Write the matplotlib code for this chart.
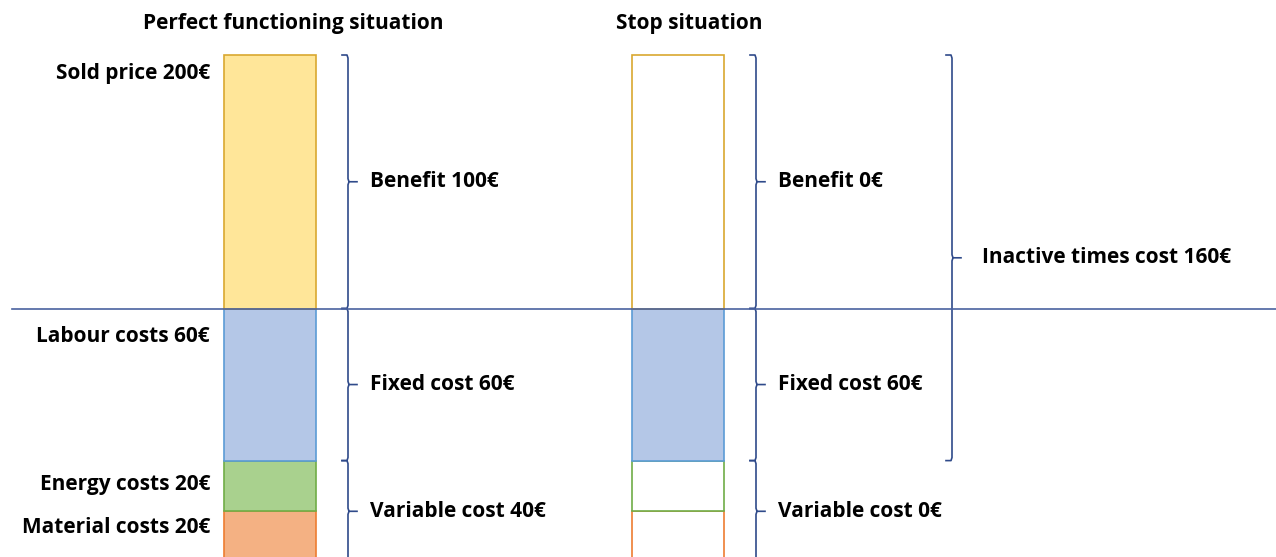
import matplotlib
matplotlib.use("Agg")
from matplotlib import pyplot as plt

# Datos (de abajo hacia arriba)
segments = ["Material costs", "Energy costs", "Labour costs", "Benefit"]
amounts = [20, 20, 60, 100]
sold_price = 200
stop_filled = [False, False, True, False]  # en parada solo se paga la mano de obra

titles = ["Perfect functioning situation", "Stop situation"]
groups_perfect = [("Variable cost", 40), ("Fixed cost", 60), ("Benefit", 100)]
groups_stop = [("Variable cost", 0), ("Fixed cost", 60), ("Benefit", 0)]
group_sizes = [40, 60, 100]
inactive_cost = 160

fills = ["#F4B183", "#A9D18E", "#B4C7E7", "#FFE699"]
edges = ["#ED7D31", "#70AD47", "#5B9BD5", "#D9A830"]
navy = "#2F4A8A"

plt.rcParams['font.family'] = ['Open Sans', 'DejaVu Sans']
plt.rcParams['font.weight'] = 'bold'
fs = 15

fig = plt.figure(figsize=(12.76, 5.57), dpi=100)
ax = fig.add_axes([0, 0, 1, 1])
ax.set_xlim(0, 1276)
ax.set_ylim(1.97, 221.7)
ax.axis('off')


def brace(ax, x, y0, y1, color=navy):
    # llave derecha entre y0 (abajo) e y1 (arriba)
    mid = (y0 + y1) / 2
    e = 1.2
    ax.plot([x - 6, x - 1, x, x, x + 1, x + 9],
            [y1, y1, y1 - e, mid + e, mid, mid], color=color, lw=1.2)
    ax.plot([x + 1, x, x, x - 1, x - 6],
            [mid, mid - e, y0 + e, y0, y0], color=color, lw=1.2)
    return mid


bar_x = [270, 678]
brace_x = [348, 756]
title_x = [293, 689]

for i in range(2):
    bottom = 0
    for j, h in enumerate(amounts):
        if i == 0 or stop_filled[j]:
            fc = fills[j]
        else:
            fc = "white"
        ax.bar(bar_x[i], h, width=92, bottom=bottom, color=fc,
               edgecolor=edges[j], linewidth=1.2, zorder=2)
        bottom += h

    # llaves y etiquetas de grupos
    groups = groups_perfect if i == 0 else groups_stop
    lo = 0
    for (name, val), size in zip(groups, group_sizes):
        mid = brace(ax, brace_x[i], lo, lo + size)
        ax.text(brace_x[i] + 22, mid, f"{name} {val}€", fontsize=fs,
                ha='left', va='center')
        lo += size

    fig.text(title_x[i] / 1276, 1 - 24 / 557, titles[i], fontsize=fs,
             ha='center', va='center')

# etiquetas de la izquierda
left_labels = [f"{s} {a}€" for s, a in zip(segments[:3], amounts[:3])]
left_labels.append(f"Sold price {sold_price}€")
tops = [20, 40, 100, 200]
offsets = [-12, -17, -20, -13]
for lab, top, off in zip(left_labels, tops, offsets):
    ax.annotate(lab, (210, top), xytext=(0, off), textcoords='offset points',
                fontsize=fs, ha='right', va='center')

# línea horizontal en el precio de coste
ax.axhline(amounts[0] + amounts[1] + amounts[2], xmin=12 / 1276, xmax=1,
           color="#4A62A0", lw=1.2, zorder=3)

# coste de tiempos inactivos
mid = brace(ax, 952, sold_price - inactive_cost, sold_price)
ax.text(982, mid, f"Inactive times cost {inactive_cost}€", fontsize=fs,
        ha='left', va='center')

fig.savefig("out.png", dpi=100)
